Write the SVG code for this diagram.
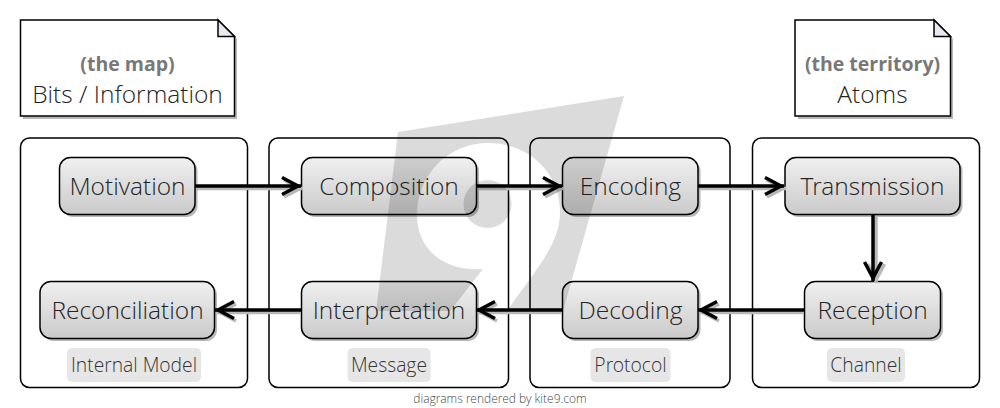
<svg xmlns="http://www.w3.org/2000/svg" width="1000" height="408" viewBox="0 0 1000 408">
<defs>
<linearGradient id="g" x1="0" y1="0" x2="0" y2="1"><stop offset="0" stop-color="#f0f0f0"/><stop offset="1" stop-color="#cacaca"/></linearGradient>
<marker id="a" markerUnits="userSpaceOnUse" markerWidth="24" markerHeight="24" refX="22" refY="12" orient="auto"><path d="M3 3.500L19 12L3 20.500" fill="none" stroke="#000" stroke-width="3.500"/></marker>
<marker id="as" markerUnits="userSpaceOnUse" markerWidth="24" markerHeight="24" refX="22" refY="12" orient="auto"><path d="M3 3.500L19 12L3 20.500" fill="none" stroke="#b8b8b8" stroke-width="3.500"/></marker>
</defs>
<style>
text{font-family:"Open Sans Light","Open Sans","Liberation Sans",sans-serif;text-anchor:middle;opacity:.99}
.n{font-size:24.500px;font-weight:300;fill:#222}
.l{font-size:19.300px;font-weight:300;fill:#333}
.b{font-family:"Open Sans","Liberation Sans",sans-serif;font-size:19.500px;font-weight:700;fill:#777}
.c{fill:none;stroke:#000;stroke-width:1.500}
.r{fill:url(#g);stroke:#000;stroke-width:1.500}
.s{fill:#b8b8b8}
.t{fill:#e6e6e6}
.e{fill:none;stroke:#000;stroke-width:3.500}
.es{fill:none;stroke:#b8b8b8;stroke-width:3.500}
.f{fill:#fff;stroke:#000;stroke-width:1.500}
.logo{fill:#000;fill-opacity:.14}
</style>
<g id="note-map"><path class="s" d="M23 23H220.500L237 39V119H23Z"/><path class="f" d="M20.500 20H218L234.500 36.500V116H20.500Z"/><path d="M218 20V36.500H234.500Z" fill="#e8e8f0" stroke="#000" stroke-width="1.500"/><text class="b" x="127.500" y="71">(the map)</text><text class="n" x="127.500" y="103">Bits / Information</text></g>
<g id="note-territory"><path class="s" d="M798 23H936.500L953 39V119H798Z"/><path class="f" d="M795 20H934L950.500 36.500V116H795Z"/><path d="M934 20V36.500H950.500Z" fill="#e8e8f0" stroke="#000" stroke-width="1.500"/><text class="b" x="872.500" y="71">(the territory)</text><text class="n" x="872.500" y="103">Atoms</text></g>
<g id="box-internal-model"><rect class="c" x="20.500" y="138" width="227" height="249.500" rx="9"/><rect class="t" x="67" y="348" width="134" height="34" rx="5"/><text class="l" x="134" y="372">Internal Model</text></g>
<g id="box-message"><rect class="c" x="269" y="138" width="239.500" height="249.500" rx="9"/><rect class="t" x="347.500" y="348" width="83" height="34" rx="5"/><text class="l" x="389" y="372">Message</text></g>
<g id="box-protocol"><rect class="c" x="530" y="138" width="200" height="249.500" rx="9"/><rect class="t" x="590.500" y="348" width="80" height="34" rx="5"/><text class="l" x="630.500" y="372">Protocol</text></g>
<g id="box-channel"><rect class="c" x="752.500" y="138" width="227" height="249.500" rx="9"/><rect class="t" x="827" y="348" width="78" height="34" rx="5"/><text class="l" x="866" y="372">Channel</text></g>
<g id="motivation"><rect class="s" x="62" y="160" width="135.500" height="57" rx="11"/><rect class="r" x="59.500" y="157.500" width="135.500" height="57" rx="11"/><text class="n" x="127.500" y="195">Motivation</text></g>
<g id="composition"><rect class="s" x="304" y="160" width="175" height="57" rx="11"/><rect class="r" x="301.500" y="157.500" width="175" height="57" rx="11"/><text class="n" x="389" y="195">Composition</text></g>
<g id="encoding"><rect class="s" x="565" y="160" width="135.500" height="57" rx="11"/><rect class="r" x="562.500" y="157.500" width="135.500" height="57" rx="11"/><text class="n" x="630.500" y="195">Encoding</text></g>
<g id="transmission"><rect class="s" x="787.500" y="160" width="175" height="57" rx="11"/><rect class="r" x="785" y="157.500" width="175" height="57" rx="11"/><text class="n" x="872.500" y="195">Transmission</text></g>
<g id="reconciliation"><rect class="s" x="42.500" y="284" width="174.500" height="57" rx="11"/><rect class="r" x="40" y="281.500" width="174.500" height="57" rx="11"/><text class="n" x="127.500" y="319">Reconciliation</text></g>
<g id="interpretation"><rect class="s" x="304" y="284" width="175" height="57" rx="11"/><rect class="r" x="301.500" y="281.500" width="175" height="57" rx="11"/><text class="n" x="389" y="319">Interpretation</text></g>
<g id="decoding"><rect class="s" x="565" y="284" width="135.500" height="57" rx="11"/><rect class="r" x="562.500" y="281.500" width="135.500" height="57" rx="11"/><text class="n" x="630.500" y="319">Decoding</text></g>
<g id="reception"><rect class="s" x="807" y="284" width="136" height="57" rx="11"/><rect class="r" x="804.500" y="281.500" width="136" height="57" rx="11"/><text class="n" x="872.500" y="319">Reception</text></g>
<g id="connectors">
<g>
<path class="es" d="M197 188.500H303" marker-end="url(#as)"/><path class="es" d="M478 188.500H564" marker-end="url(#as)"/><path class="es" d="M700 188.500H786" marker-end="url(#as)"/><path class="es" d="M876 217V283" marker-end="url(#as)"/><path class="es" d="M804 312.500H700" marker-end="url(#as)"/><path class="es" d="M562 312.500H478" marker-end="url(#as)"/><path class="es" d="M301 312.500H217" marker-end="url(#as)"/>
</g>
<path class="e" d="M195 186H301" marker-end="url(#a)"/><path class="e" d="M476 186H562" marker-end="url(#a)"/><path class="e" d="M698 186H784" marker-end="url(#a)"/><path class="e" d="M873 214V281" marker-end="url(#a)"/><path class="e" d="M804 310H698" marker-end="url(#a)"/><path class="e" d="M562 310H476" marker-end="url(#a)"/><path class="e" d="M301 310H215" marker-end="url(#a)"/>
</g>
<path class="logo" d="M398 132L624 96L563 311L507 311C535 270 560 245 560 212C560 172 528 143 488 143C448 143 417 175 417 215C417 250 445 272 483 269L450 311L376 311Z"/>
<circle class="logo" cx="487.500" cy="204" r="24"/>
<text x="500" y="403" font-size="12" font-weight="300" fill="#444">diagrams rendered by kite9.com</text>
</svg>
